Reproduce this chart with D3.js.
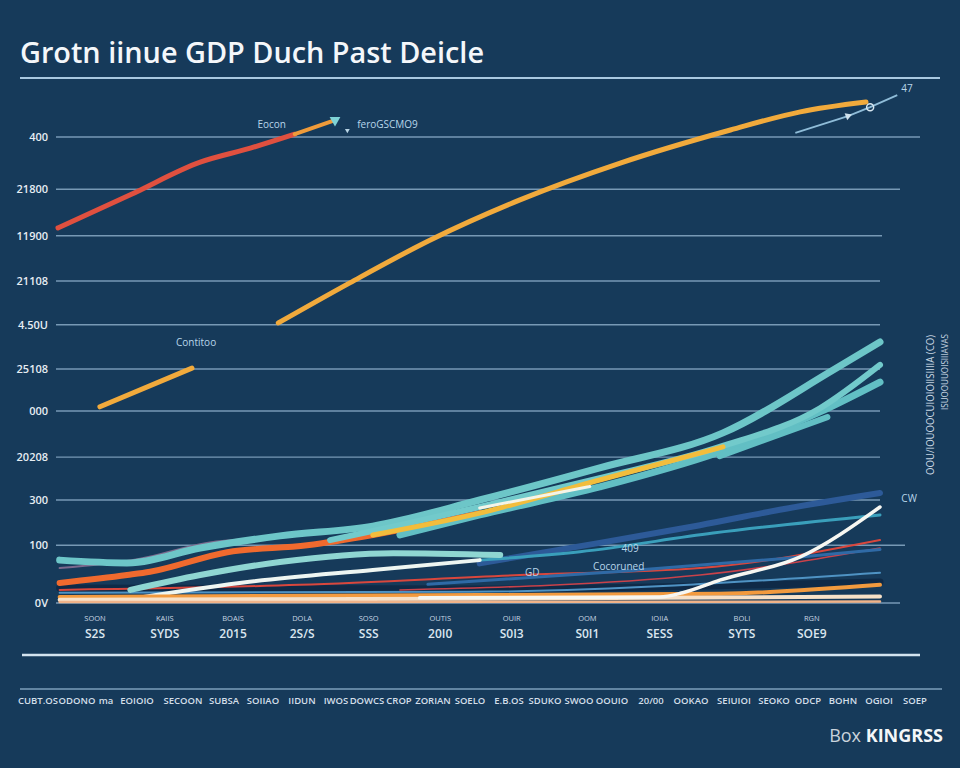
<!DOCTYPE html>
<html><head><meta charset="utf-8">
<script src="https://cdn.jsdelivr.net/npm/d3@7"></script>
<style>
html,body{margin:0;padding:0;background:#163a5a;}
svg{display:block;}
text{font-family:"Open Sans","Noto Sans",sans-serif;}
</style></head>
<body>
<svg id="c" width="960" height="768"></svg>
<script>
// ---------- DATA ----------
const title = "Grotn iinue GDP Duch Past Deicle";
const yTickValues = [0, 12.4, 22.1, 31.3, 41.2, 50.2, 59.7, 69.1, 78.8, 88.8, 100];
const yTickLabels = ["0V", "100", "300", "20208", "000", "25108", "4.50U", "21108", "11900", "21800", "400"];
const xTickValues = [0.45, 1.30, 2.13, 2.97, 3.78, 4.65, 5.52, 6.44, 7.32, 8.32, 9.17];
const xTickTop = ["SOON", "KAIIS", "BOAIS", "DOLA", "SOSO", "OUTIS", "OUIR", "OOM", "IOIIA", "BOLI", "RGN"];
const xTickMain = ["S2S", "SYDS", "2015", "2S/S", "SSS", "20I0", "S0I3", "S0I1", "SESS", "SYTS", "SOE9"];
const footLabels = ["CUBT.OS","ODONO","ma","EOIOIO","SECOON","SUBSA","SOIIAO","IIDUN","IWOS","DOWCS","CROP","ZORIAN","SOELO","E.B.OS","SDUKO","SWOO","OOUIO","20/00","OOKAO","SEIUIOI","SEOKO","ODCP","BOHN","OGIOI","SOEP"];
const footPos = [38,77,106,137,183,224,263,302,336,367,399,433,470,509,545,579,612,651,691,734,774,808,843,879,915];

const red      = [[0,80.5],[0.88,87.6],[1.73,94.6],[2.34,97.6],[2.88,100.6]];
const redTail  = [[2.88,100.6],[3.37,103.6]];
const gold     = [[2.68,60.1],[3.55,68.7],[4.53,77.9],[5.62,86.5],[6.84,94.4],[8.18,101.5],[9.03,105.4],[9.83,107.5]];
const goldShort= [[0.51,42.1],[1.63,50.4]];
const pointer  = [[8.97,100.9],[9.61,104.5],[9.88,106.4],[10.21,109.0]];

const tealA    = [[0.02,9.2],[0.84,8.6],[1.73,11.8],[2.70,14.4],[3.83,16.5],[5.13,22.1],[6.59,29.0],[8.09,36.5],[9.43,50.0],[10,56.0]];
const tealB    = [[3.31,13.5],[4.16,16.7],[5.13,20.6],[6.59,26.8],[8.05,33.5],[9.27,41.8],[10,51.1]];
const tealC    = [[4.16,14.6],[5.13,18.9],[6.59,24.9],[8.05,32.4],[9.27,41.0],[10,47.4]];
const tealD    = [[8.05,31.5],[9.36,39.9]];
const orangeLow= [[0.02,4.3],[0.84,6.0],[1.12,6.7],[2.06,10.9],[3.03,12.4],[3.83,14.6],[5.13,19.3]];
const yellow   = [[3.83,14.6],[5.13,19.3],[6.59,26.4],[8.09,33.5]];
const whiteMid = [[5.13,20.4],[6.47,25.0]];
const mauve    = [[0.02,7.5],[1.0,9.5],[1.81,12.9],[2.6,14.0]];
const paleTeal = [[0.88,2.8],[1.73,6.0],[2.70,8.8],[4.08,10.7],[5.38,10.3]];
const whiteLow = [[0.79,0.6],[2.21,4.3],[3.83,7.1],[5.13,9.2]];
const tealLow  = [[5.13,9.2],[6.35,11.0],[7.97,15.0],[10,18.9]];
const blueDark = [[5.13,8.5],[6.59,12.9],[7.81,16.7],[8.78,20.0],[10,23.6]];
const blueMid  = [[4.5,4.0],[7.0,7.0],[8.8,9.5],[10,11.5]];
const redThin1 = [[0.02,2.8],[2.94,3.9],[5.62,6.0],[7.81,7.5],[10,13.5]];
const redThin2 = [[4.16,2.8],[7.81,6.0],[10,11.8]];
const navyBand = [[0.02,3.2],[5.0,3.0],[10,4.5]];
const ltBlue   = [[0.02,2.2],[5.0,2.4],[10,6.5]];
const orangeBot= [[0.02,1.3],[5.13,1.7],[8.05,2.0],[10,3.9]];
const cream    = [[0.02,0.7],[5.0,0.9],[10,1.4]];
const peach    = [[0.02,0.2],[10,0.3]];
const whiteCurve=[[4.40,1.1],[7.32,1.3],[7.6,2.2],[8.05,4.9],[9.03,9.9],[10,20.6]];

const notes = [
  {t:"Eocon", x:2.60, v:101.9, a:"middle"},
  {t:"feroGSCMO9", x:3.64, v:101.9, a:"start"},
  {t:"Contitoo", x:1.68, v:55.2, a:"middle"},
  {t:"409", x:6.96, v:10.9, a:"middle"},
  {t:"GD", x:5.77, v:5.9, a:"middle"},
  {t:"Cocoruned", x:6.51, v:7.1, a:"start"},
  {t:"47", x:10.26, v:109.6, a:"start"},
  {t:"CW", x:10.26, v:21.7, a:"start"}
];

// ---------- LAYOUT ----------
const svg = d3.select("#c");
const W = 960, H = 768;
const x = d3.scaleLinear().domain([0, 10]).range([58, 880]);
const y = d3.scaleLinear().domain([0, 100]).range([603, 137]);
const gridEnds = [900, 905, 880, 880, 880, 880, 880, 880, 882, 900, 920];

svg.append("rect").attr("width", W).attr("height", H).attr("fill", "#163a5a");

// title
svg.append("text").attr("x", 20).attr("y", 63).attr("fill", "#f4f7fa")
  .attr("font-size", 28).attr("font-weight", 600)
  .attr("textLength", 464).attr("lengthAdjust", "spacingAndGlyphs").text(title);
svg.append("line").attr("x1", 20).attr("x2", 940).attr("y1", 78).attr("y2", 78)
  .attr("stroke", "#a9c8e0").attr("stroke-width", 2);

// grid
const g = svg.append("g");
yTickValues.forEach((v, i) => {
  g.append("line").attr("x1", 56).attr("x2", gridEnds[i]).attr("y1", y(v)).attr("y2", y(v))
    .attr("stroke", "#88aac6").attr("stroke-width", 1.4).attr("opacity", 0.85);
  g.append("text").attr("x", 48).attr("y", y(v) + 4).attr("text-anchor", "end")
    .attr("fill", "#e6edf3").attr("font-size", 11).attr("font-weight", 600).text(yTickLabels[i]);
});

// lines
const line = d3.line().x(d => x(d[0])).y(d => y(d[1])).curve(d3.curveMonotoneX);
const series = [
  [navyBand, "#0f2a47", 7],
  [ltBlue, "#4f93c4", 2],
  [redThin1, "#d9473d", 2],
  [redThin2, "#c9424a", 1.6],
  [blueMid, "#2f6aa6", 3],
  [blueDark, "#2d5a98", 6],
  [tealLow, "#3a9fbb", 3],
  [paleTeal, "#8fd6d2", 6],
  [whiteLow, "#eef6f2", 4],
  [mauve, "#7c6a8e", 2],
  [orangeBot, "#f29a3e", 4],
  [cream, "#f7e1c8", 4],
  [peach, "#f0b389", 2.5],
  [whiteCurve, "#f7f7f2", 3.5],
  [orangeLow, "#f06a2e", 6],
  [tealA, "#6dc6c8", 7],
  [tealC, "#62bfc4", 7],
  [tealD, "#62bfc4", 6],
  [tealB, "#72cacb", 6],
  [yellow, "#f2bd3c", 5],
  [whiteMid, "#f4f4e8", 3],
  [goldShort, "#f1aa3c", 5],
  [gold, "#f1aa3c", 5],
  [red, "#e0503f", 5],
  [redTail, "#ef9b3a", 4]
];
series.forEach(([d, c, w]) => {
  svg.append("path").attr("d", line(d)).attr("fill", "none").attr("stroke", c)
    .attr("stroke-width", w).attr("stroke-linecap", "round").attr("stroke-linejoin", "round");
});

// pointer line with marker
svg.append("path").attr("d", d3.line().x(d => x(d[0])).y(d => y(d[1]))(pointer))
  .attr("fill", "none").attr("stroke", "#8fbcd8").attr("stroke-width", 1.8);
svg.append("circle").attr("cx", x(pointer[2][0])).attr("cy", y(pointer[2][1])).attr("r", 3.5)
  .attr("fill", "none").attr("stroke", "#d7e6f0").attr("stroke-width", 1.5);
svg.append("path").attr("d", d3.symbol(d3.symbolTriangle, 24)())
  .attr("transform", `translate(${x(pointer[1][0])},${y(pointer[1][1])}) rotate(70)`).attr("fill", "#cfe2ee");

// teal marker at end of red tail
svg.append("path").attr("d", d3.symbol(d3.symbolTriangle, 50)())
  .attr("transform", `translate(${x(redTail[1][0])},${y(redTail[1][1])}) rotate(180)`).attr("fill", "#7fd3d6");
svg.append("path").attr("d", d3.symbol(d3.symbolTriangle, 10)())
  .attr("transform", `translate(${x(3.52)},${y(101.4)}) rotate(180)`).attr("fill", "#b9d5e6");

// notes
notes.forEach(n => {
  svg.append("text").attr("x", x(n.x)).attr("y", y(n.v)).attr("text-anchor", n.a)
    .attr("fill", "#b8d6ea").attr("font-size", 10).text(n.t);
});

// x ticks (two rows)
xTickValues.forEach((v, i) => {
  svg.append("text").attr("x", x(v)).attr("y", 621).attr("text-anchor", "middle")
    .attr("fill", "#c8d6e2").attr("font-size", 7.5).text(xTickTop[i]);
  svg.append("text").attr("x", x(v)).attr("y", 638).attr("text-anchor", "middle")
    .attr("fill", "#dbe6ef").attr("font-size", 12).attr("font-weight", 600).text(xTickMain[i]);
});

// separators
svg.append("line").attr("x1", 22).attr("x2", 920).attr("y1", 655).attr("y2", 655)
  .attr("stroke", "#d3e3ef").attr("stroke-width", 2.5);
svg.append("line").attr("x1", 20).attr("x2", 942).attr("y1", 689).attr("y2", 689)
  .attr("stroke", "#7d9fbb").attr("stroke-width", 1.5);

// footer labels
footLabels.forEach((t, i) => {
  svg.append("text").attr("x", footPos[i]).attr("y", 704).attr("text-anchor", "middle")
    .attr("fill", "#d3dfe9").attr("font-size", 9.5).attr("font-weight", 600).text(t);
});

// vertical side texts
svg.append("text").attr("transform", "translate(934,405) rotate(-90)").attr("text-anchor", "middle")
  .attr("fill", "#c9d7e3").attr("font-size", 11).attr("textLength", 140).attr("lengthAdjust", "spacingAndGlyphs")
  .text("OOU/IOUOOCUIOIOIISIIIIA (CO)");
svg.append("text").attr("transform", "translate(948,372) rotate(-90)").attr("text-anchor", "middle")
  .attr("fill", "#c9d7e3").attr("font-size", 9).attr("textLength", 76).attr("lengthAdjust", "spacingAndGlyphs")
  .text("ISUOOUUOISIIIAVAS");

// watermark
const wm = svg.append("text").attr("x", 943).attr("y", 742).attr("text-anchor", "end").attr("font-size", 18);
wm.append("tspan").attr("fill", "#c9d3dc").attr("font-weight", 400).text("Box ");
wm.append("tspan").attr("fill", "#f3f6f8").attr("font-weight", 700).text("KINGRSS");
</script>
</body></html>
